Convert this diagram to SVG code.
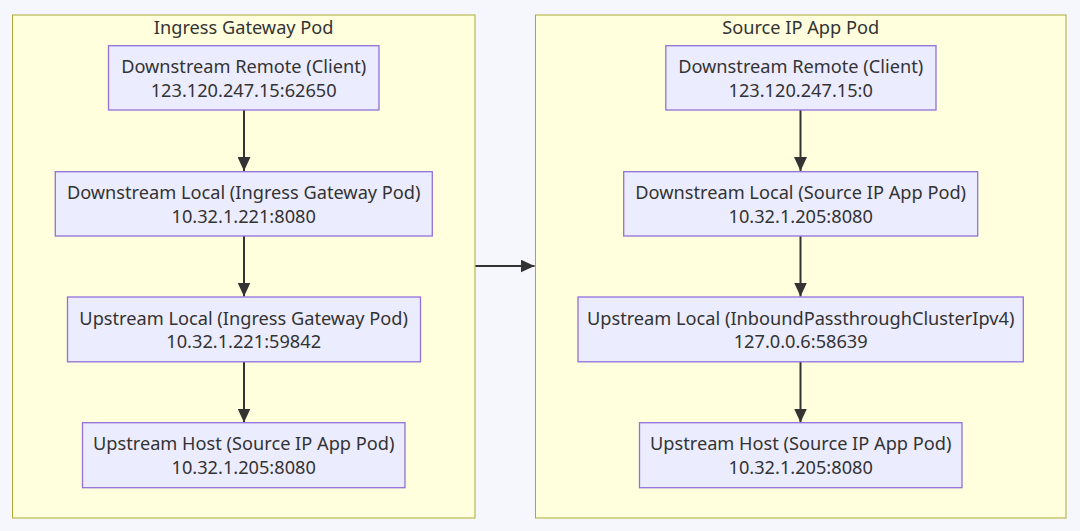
<svg xmlns="http://www.w3.org/2000/svg" width="1080" height="531" viewBox="0 0 1080 531">
<style>
.bg{fill:#f6f7fc}
.cluster rect{fill:#ffffde;stroke:#aaaa33;stroke-width:1}
.node rect{fill:#ececff;stroke:#9370db;stroke-width:1.3}
text{font-family:"Noto Sans","DejaVu Sans",sans-serif;font-size:18.2px;fill:#333;text-anchor:middle}
.edge{stroke:#333;stroke-width:2;fill:none}
</style>
<defs>
<marker id="ah" viewBox="0 0 14 13" refX="14" refY="6.5" markerWidth="14" markerHeight="13" markerUnits="userSpaceOnUse" orient="auto">
<path d="M0,0 L14,6.5 L0,13 z" fill="#333"/>
</marker>
</defs>
<rect class="bg" x="0" y="0" width="1080" height="531"/>
<g id="cluster-ingress" class="cluster">
<rect x="12.5" y="15" width="462.5" height="503"/>
<text x="243.7" y="33.5">Ingress Gateway Pod</text>
</g>
<g id="cluster-source" class="cluster">
<rect x="535.5" y="15" width="530.5" height="503"/>
<text x="800.7" y="33.5">Source IP App Pod</text>
</g>
<g id="connectors">
<path class="edge" d="M244,110 V171" marker-end="url(#ah)"/>
<path class="edge" d="M244,236 V296.5" marker-end="url(#ah)"/>
<path class="edge" d="M244,362 V422.5" marker-end="url(#ah)"/>
<path class="edge" d="M800.5,110 V171" marker-end="url(#ah)"/>
<path class="edge" d="M800.5,236 V296.5" marker-end="url(#ah)"/>
<path class="edge" d="M800.5,362 V422.5" marker-end="url(#ah)"/>
<path class="edge" d="M475.5,266 H534.5" marker-end="url(#ah)"/>
</g>
<g id="n1" class="node">
<rect x="108.5" y="45.7" width="270.5" height="64.3"/>
<text x="243.7" y="73">Downstream Remote (Client)</text>
<text x="243.7" y="96.5">123.120.247.15:62650</text>
</g>
<g id="n2" class="node">
<rect x="55.3" y="171.7" width="377" height="64.3"/>
<text x="243.7" y="199">Downstream Local (Ingress Gateway Pod)</text>
<text x="243.7" y="222.5">10.32.1.221:8080</text>
</g>
<g id="n3" class="node">
<rect x="67.5" y="297" width="353" height="64.8"/>
<text x="243.7" y="324.5">Upstream Local (Ingress Gateway Pod)</text>
<text x="243.7" y="348">10.32.1.221:59842</text>
</g>
<g id="n4" class="node">
<rect x="82.5" y="422.7" width="322.5" height="65"/>
<text x="243.7" y="450">Upstream Host (Source IP App Pod)</text>
<text x="243.7" y="473.5">10.32.1.205:8080</text>
</g>
<g id="m1" class="node">
<rect x="665.8" y="45.7" width="270.2" height="64.3"/>
<text x="800.7" y="73">Downstream Remote (Client)</text>
<text x="800.7" y="96.5">123.120.247.15:0</text>
</g>
<g id="m2" class="node">
<rect x="623.7" y="171.7" width="354" height="64.3"/>
<text x="800.7" y="199">Downstream Local (Source IP App Pod)</text>
<text x="800.7" y="222.5">10.32.1.205:8080</text>
</g>
<g id="m3" class="node">
<rect x="578" y="297" width="445.3" height="64.8"/>
<text x="800.7" y="324.5">Upstream Local (InboundPassthroughClusterIpv4)</text>
<text x="800.7" y="348">127.0.0.6:58639</text>
</g>
<g id="m4" class="node">
<rect x="639.5" y="422.7" width="322.5" height="65"/>
<text x="800.7" y="450">Upstream Host (Source IP App Pod)</text>
<text x="800.7" y="473.5">10.32.1.205:8080</text>
</g>
</svg>
